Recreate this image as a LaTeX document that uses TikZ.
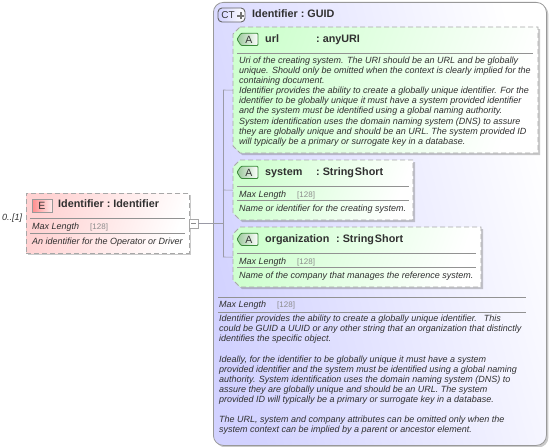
\documentclass[tikz,border=0pt]{standalone}
\usepackage{fontspec}
\setmainfont{Liberation Sans}
\usetikzlibrary{shadows}
\definecolor{edge}{HTML}{A8A8A8}
\definecolor{rulec}{HTML}{929292}
\definecolor{titlec}{HTML}{303030}
\definecolor{descc}{HTML}{303030}
\definecolor{numc}{HTML}{8C8C8C}
\definecolor{wirec}{HTML}{9A9AA6}
\definecolor{lav}{HTML}{D2D2FF}
\definecolor{pinkc}{HTML}{FFD2D2}
\definecolor{greenc}{HTML}{CFFFCF}
\tikzset{
  softshadow/.style={drop shadow={shadow xshift=2pt,shadow yshift=-2pt,opacity=.35,fill=black!60}},
  ctbox/.style={draw=black!40,line width=.8pt,rounded corners=10pt,inner sep=0,left color=lav,right color=white,shading angle=105,softshadow},
  elembox/.style={draw=edge,dash pattern=on 5pt off 3pt,line width=.9pt,inner sep=0,left color=pinkc,right color=white,shading angle=70,softshadow},
  attrshape/.style={draw=edge,dash pattern=on 5pt off 3pt,line width=.9pt,left color=greenc,right color=white,shading angle=70,softshadow},
  anchorbox/.style={inner sep=0,anchor=north west},
  title/.style={anchor=base west,inner sep=0,font=\fontsize{10.8}{12}\selectfont\bfseries,text=titlec},
  sep/.style={draw=rulec,line width=.7pt},
  itext/.style={anchor=north west,inner sep=0,align=left,font=\fontsize{9}{10.13}\selectfont\itshape,text=descc},
  mlabel/.style={anchor=base west,inner sep=0,font=\fontsize{9}{10}\selectfont\itshape,text=descc},
  mval/.style={anchor=base west,inner sep=0,font=\fontsize{8}{10}\selectfont,text=numc},
  wire/.style={draw=wirec,line width=.6pt},
  badge/.style={inner sep=0,font=\fontsize{10.5}{11}\selectfont,text=black!80},
}
\newcommand{\attrbox}[5]{% name, x1, y1, x2, y2
  \path[attrshape] ({#2+7},{#3}) -- ({#4},{#3}) -- ({#4},{#5}) -- ({#2+7},{#5}) -- ({#2},{#5-7}) -- ({#2},{#3+7}) -- cycle;
  \node[anchorbox,minimum width={#4-#2},minimum height={#5-#3}] (#1) at ({#2},{#3}) {};
}
\newcommand{\attrbadge}[3]{% name, x, y (top-left)
  \path[draw=black!45!green!55!gray,line width=.8pt,left color=green!45!black!40!white,right color=white,rounded corners=1pt] ({#2},{#3+6.2}) -- ({#2+4},{#3+.3}) -- ({#2+21},{#3+.3}) -- ({#2+21},{#3+12.5}) -- ({#2+4},{#3+12.5}) -- cycle;
  \node[badge] (#1) at ({#2+12},{#3+6.5}) {A};
}
\begin{document}
\begin{tikzpicture}[x=1pt,y=-1pt]
\useasboundingbox (0,0) rectangle (550,447);
% complex type container
\node[ctbox,minimum width=333pt,minimum height=443pt,anchor=north west] (ct) at (213,2) {};
\draw[draw=black!60,line width=.9pt,rounded corners=4pt,left color=lav,right color=white] (218,8) rectangle (245,22);
\node[inner sep=0,font=\fontsize{10}{11}\selectfont,text=black!80] (ctb) at (228,15.5) {CT};
\fill[black!55] (237.3,14.6) rectangle (243.7,16.6);
\fill[black!55] (239.5,12.3) rectangle (241.5,18.9);
\node[title] (cttitle) at (252,17) {Identifier\hspace{3pt}:\hspace{3pt}GUID};
% element
\node[elembox,minimum width=163pt,minimum height=60pt,anchor=north west] (elem) at (26,193) {};
\draw[draw=black!40,line width=.8pt,left color=red!45!white,right color=red!8!white] (32,199.5) rectangle (52,212.5);
\node[badge] (eb) at (42,206) {E};
\node[title] (etitle) at (58,207.7) {Identifier\hspace{3pt}:\hspace{3pt}Identifier};
\draw[sep] (30,218) -- (185,218);
\draw[sep] (30,233) -- (185,233);
\node[mlabel] (eml) at (32,229) {Max Length};
\node[mval] (emv) at (90,229) {[128]};
\node[mlabel] (edesc) at (32,244) {An identifier for the Operator or Driver};
\node[mlabel] (occ) at (2,220) {0..[1]};
% collapse
\node[draw=black!35,fill=white,line width=.7pt,minimum size=9pt,inner sep=0] (coll) at (193.5,223.5) {};
\draw[black!45,line width=.7pt] (191,223.5) -- (196,223.5);
% attribute boxes
\attrbox{url}{233}{27}{538}{153}
\attrbadge{aurl}{237}{33}
\node[title] (urlt) at (265,42.5) {url};
\node[title] (urlt2) at (316,42.5) {:\hspace{3pt}anyURI};
\draw[sep] (237,53) -- (533,53);
\node[itext] (urld) at (239,56.5) {Uri of the creating system. The URI should be an URL and be globally\\unique. Should only be omitted when the context is clearly implied for the\\containing document.\\Identifier provides the ability to create a globally unique identifier. For the\\identifier to be globally unique it must have a system provided identifier\\and the system must be identified using a global naming authority.\\System identification uses the domain naming system (DNS) to assure\\they are globally unique and should be an URL. The system provided ID\\will typically be a primary or surrogate key in a database.};
\attrbox{sys}{233}{160}{413}{220}
\attrbadge{asys}{237}{166}
\node[title] (syst) at (265,175) {system};
\node[title] (syst2) at (316,175) {:\hspace{3pt}String\hspace{1pt}Short};
\draw[sep] (237,186) -- (409,186);
\draw[sep] (237,200) -- (409,200);
\node[mlabel] (sysml) at (239,197) {Max Length};
\node[mval] (sysmv) at (297,197) {[128]};
\node[mlabel] (sysd) at (239,211) {Name or identifier for the creating system.};
\attrbox{org}{233}{227}{481}{287}
\attrbadge{aorg}{237}{233}
\node[title] (orgt) at (265,242) {organization};
\node[title] (orgt2) at (336,242) {:\hspace{3pt}String\hspace{1pt}Short};
\draw[sep] (237,253) -- (476,253);
\draw[sep] (237,267) -- (476,267);
\node[mlabel] (orgml) at (239,264) {Max Length};
\node[mval] (orgmv) at (297,264) {[128]};
\node[mlabel] (orgd) at (239,278) {Name of the company that manages the reference system.};
% connectors
\coordinate (j0) at (223,223.5);
\coordinate (j1) at (223,90);
\coordinate (j2) at (223,190);
\coordinate (j3) at (223,257);
\draw[wire] (coll.east) -- (j0);
\draw[wire] (j1) -- (j3);
\draw[wire] (j1) -- (url.west);
\draw[wire] (j2) -- (sys.west);
\draw[wire] (j3) -- (org.west);
% container footer
\draw[sep] (218,297) -- (526,297);
\draw[sep] (218,312) -- (526,312);
\node[mlabel] (ctml) at (219,307.7) {Max Length};
\node[mval] (ctmv) at (277,307.7) {[128]};
\node[itext] (ctd) at (219,314.8) {Identifier provides the ability to create a globally unique identifier.\hspace{7pt}This\\could be GUID a UUID or any other string that an organization that distinctly\\identifies the specific object.\\[10.13pt]Ideally, for the identifier to be globally unique it must have a system\\provided identifier and the system must be identified using a global naming\\authority. System identification uses the domain naming system (DNS) to\\assure they are globally unique and should be an URL. The system\\provided ID will typically be a primary or surrogate key in a database.\\[10.13pt]The URL, system and company attributes can be omitted only when the\\system context can be implied by a parent or ancestor element.};
\end{tikzpicture}
\end{document}
